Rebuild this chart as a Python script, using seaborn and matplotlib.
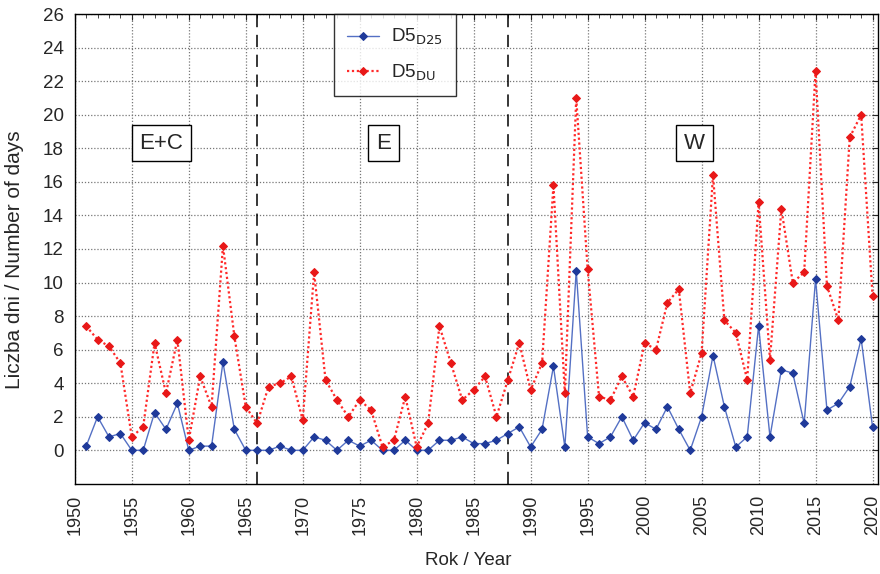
import matplotlib
matplotlib.use("Agg")
import matplotlib.pyplot as plt
import seaborn as sns
import pandas as pd
import numpy as np
from matplotlib.ticker import MultipleLocator

years = list(range(1951, 2021))
d5_d25 = [0.25, 2.0, 0.8, 1.0, 0.0, 0.0, 2.25, 1.25, 2.8, 0.0,
          0.25, 0.25, 5.25, 1.25, 0.0, 0.0, 0.0, 0.25, 0.0, 0.0,
          0.8, 0.6, 0.0, 0.6, 0.25, 0.6, 0.0, 0.0, 0.6, 0.0,
          0.0, 0.6, 0.6, 0.8, 0.4, 0.4, 0.6, 1.0, 1.4, 0.2,
          1.25, 5.0, 0.2, 10.7, 0.8, 0.4, 0.8, 2.0, 0.6, 1.65,
          1.25, 2.6, 1.25, 0.0, 2.0, 5.65, 2.6, 0.2, 0.8, 7.4,
          0.8, 4.8, 4.6, 1.6, 10.2, 2.4, 2.8, 3.8, 6.65, 1.4]
d5_du = [7.4, 6.6, 6.2, 5.2, 0.8, 1.4, 6.4, 3.4, 6.6, 0.6,
         4.4, 2.6, 12.2, 6.8, 2.6, 1.6, 3.8, 4.0, 4.4, 1.8,
         10.6, 4.2, 3.0, 2.0, 3.0, 2.4, 0.2, 0.6, 3.2, 0.2,
         1.6, 7.4, 5.2, 3.0, 3.6, 4.4, 2.0, 4.2, 6.4, 3.6,
         5.2, 15.8, 3.4, 21.0, 10.8, 3.2, 3.0, 4.4, 3.2, 6.4,
         6.0, 8.8, 9.6, 3.4, 5.8, 16.4, 7.75, 7.0, 4.2, 14.8,
         5.4, 14.4, 10.0, 10.6, 22.6, 9.8, 7.75, 18.65, 20.0, 9.2]
period_breaks = [1966, 1988]
period_labels = ["E+C", "E", "W"]
period_label_x = [1957.6, 1977.1, 2004.4]
period_label_y = 18.3

sns.set_style("white")
plt.rcParams['font.family'] = ['Liberation Sans', 'DejaVu Sans']

fig = plt.figure(figsize=(8.8, 5.74), dpi=100)
ax = fig.add_axes([0.085, 0.157, 0.913, 0.8186])

df = pd.DataFrame({"year": years, "D25": d5_d25, "DU": d5_du})

sns.lineplot(data=df, x="year", y="D25", ax=ax, color="#5470c4", lw=1.0,
             marker="D", markersize=4, markerfacecolor="#1f3a9a",
             markeredgecolor="#1f3a9a", label=r"D5$_{\mathrm{D25}}$")
sns.lineplot(data=df, x="year", y="DU", ax=ax, color="#ff2a2a", lw=1.6,
             linestyle=(0, (1, 1.2)), marker="D", markersize=4,
             markerfacecolor="#e81818", markeredgecolor="#e81818",
             label=r"D5$_{\mathrm{DU}}$")

for b in period_breaks:
    ax.axvline(b, color="black", lw=1.1, ls=(0, (8, 5)), zorder=1)

for lab, xx in zip(period_labels, period_label_x):
    ax.text(xx, period_label_y, lab, fontsize=16, ha="center", va="center",
            bbox=dict(boxstyle="square,pad=0.35", fc="white", ec="black", lw=1.0),
            zorder=3)

ax.set_xlim(1950, 2020.5)
ax.set_ylim(-2, 26)
ax.xaxis.set_major_locator(MultipleLocator(5))
ax.xaxis.set_minor_locator(MultipleLocator(1))
ax.set_yticks(np.arange(0, 27, 2))
ax.grid(True, which="major", color="#777777", ls=(0, (1, 1.5)), lw=0.9)
ax.set_axisbelow(True)
ax.tick_params(axis="x", which="major", labelrotation=90, labelsize=13,
               direction="in", top=True, length=4, pad=8)
ax.tick_params(axis="x", which="minor", direction="in", top=True, bottom=False, length=3)
ax.tick_params(axis="y", labelsize=13.5, direction="in", right=True, length=4, pad=8)
for s in ax.spines.values():
    s.set_color("black")
    s.set_linewidth(1.0)

ax.set_xlabel("Rok / Year", fontsize=13.5)
ax.xaxis.set_label_coords(0.49, -0.145)
ax.set_ylabel("Liczba dni / Number of days", fontsize=15)
ax.yaxis.set_label_coords(-0.063, 0.477)

leg = ax.legend(loc="upper left", bbox_to_anchor=(0.323, 1.0), fontsize=13.5,
                frameon=True, fancybox=False, edgecolor="black",
                handlelength=1.7, handletextpad=0.64, borderpad=0.7,
                labelspacing=0.8, borderaxespad=0)
leg.get_frame().set_linewidth(1.0)

fig.savefig("out.png", dpi=100)
